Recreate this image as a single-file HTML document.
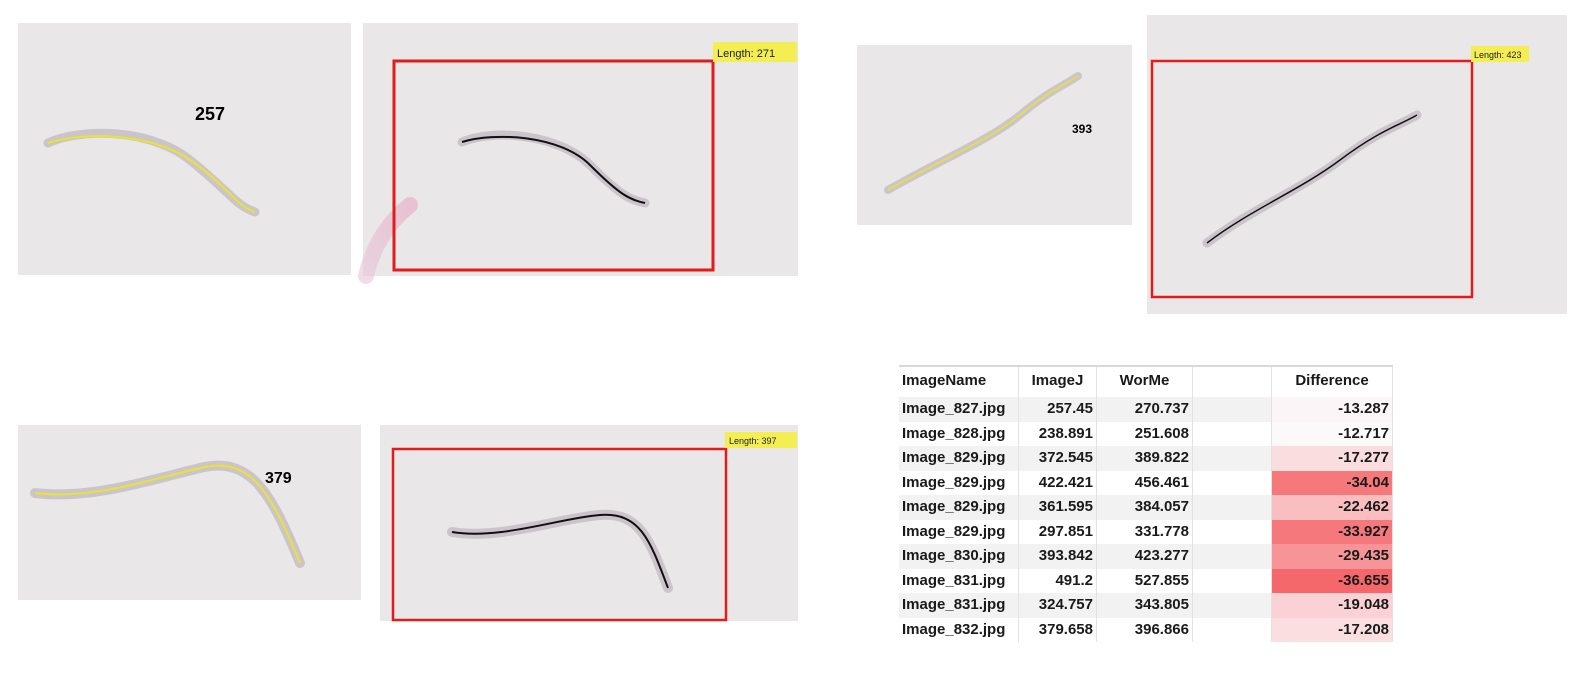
<!DOCTYPE html>
<html><head><meta charset="utf-8"><style>
body{margin:0;width:1589px;height:673px;background:#fff;position:relative;overflow:hidden;font-family:"Liberation Sans",Arial,sans-serif}
svg{position:absolute;left:0;top:0}
#tbl{position:absolute;left:899px;top:365px;}
.cell{position:absolute;box-sizing:border-box;font-size:15px;line-height:24px;color:#1a1a1a;white-space:nowrap;padding:0 3px;font-weight:bold}
</style></head><body>
<svg width="1589" height="673">
<defs>
<linearGradient id="pink" x1="0" y1="1" x2="1" y2="0"><stop offset="0" stop-color="#e8c4d6"/><stop offset="1" stop-color="#e7a9c3"/></linearGradient>
</defs>
<g>
<rect x="18" y="23" width="333" height="252" fill="#e9e7e8"/>
<path d="M48,143 C80,128 150,128 190,160 S235,205 255,212" fill="none" stroke="#b9adb7" stroke-width="9" stroke-linecap="round" opacity="0.6"/>
<path d="M48,143 C80,132 150,132 190,160 S235,205 255,212" fill="none" stroke="#e8e431" stroke-width="2"/>
<text x="195" y="120" font-size="18" font-weight="bold" font-family="Liberation Sans,sans-serif">257</text>
</g>
<g>
<rect x="363" y="23" width="435" height="253" fill="#e9e7e8"/>
<path d="M366,276 C372,250 385,225 410,205" stroke="url(#pink)" stroke-width="16" fill="none" stroke-linecap="round" opacity="0.6"/>
<path d="M462,142 C495,128 560,135 590,165 S630,200 645,203" fill="none" stroke="#b9adb7" stroke-width="9" stroke-linecap="round" opacity="0.6"/>
<path d="M462,142 C495,132 560,135 590,165 S630,200 645,203" fill="none" stroke="#111" stroke-width="2"/>
<rect x="394" y="61" width="319" height="209" fill="none" stroke="#e21b1b" stroke-width="3"/>
<rect x="713" y="42" width="84" height="20" fill="#f3ee54"/>
<text x="717" y="57" font-size="11" fill="#222">Length: 271</text>
</g>
<g>
<rect x="857" y="45" width="275" height="180" fill="#e9e7e8"/>
<path d="M888,190 C940,160 990,140 1020,115 S1065,85 1078,76" fill="none" stroke="#b9adb7" stroke-width="8" stroke-linecap="round" opacity="0.6"/>
<path d="M888,190 C940,160 990,140 1020,115 S1065,85 1078,76" fill="none" stroke="#e8e431" stroke-width="1.5"/>
<text x="1072" y="133" font-size="12" font-weight="bold">393</text>
</g>
<g>
<rect x="1147" y="15" width="420" height="299" fill="#e9e7e8"/>
<path d="M1207,243 C1250,210 1300,190 1340,160 S1400,125 1417,115" fill="none" stroke="#b9adb7" stroke-width="9" stroke-linecap="round" opacity="0.6"/>
<path d="M1207,243 C1250,210 1300,190 1340,160 S1400,125 1417,115" fill="none" stroke="#111" stroke-width="1.5"/>
<rect x="1152" y="61" width="320" height="236" fill="none" stroke="#e21b1b" stroke-width="2.5"/>
<rect x="1471" y="46" width="58" height="16" fill="#f3ee54"/>
<text x="1474" y="58" font-size="9" fill="#222">Length: 423</text>
</g>
<g>
<rect x="18" y="425" width="343" height="175" fill="#e9e7e8"/>
<path d="M35,493 C90,500 150,480 200,468 S270,490 300,563" fill="none" stroke="#b9adb7" stroke-width="10" stroke-linecap="round" opacity="0.6"/>
<path d="M35,493 C90,500 150,480 200,468 S270,490 300,563" fill="none" stroke="#e8e431" stroke-width="2"/>
<text x="265" y="483" font-size="16" font-weight="bold">379</text>
</g>
<g>
<rect x="380" y="425" width="418" height="196" fill="#e9e7e8"/>
<path d="M452,532 C500,540 560,518 600,515 S650,540 668,588" fill="none" stroke="#b9adb7" stroke-width="10" stroke-linecap="round" opacity="0.6"/>
<path d="M452,532 C500,540 560,518 600,515 S650,540 668,588" fill="none" stroke="#111" stroke-width="2"/>
<rect x="393" y="449" width="333" height="171" fill="none" stroke="#e21b1b" stroke-width="2.5"/>
<rect x="725" y="432" width="72" height="16" fill="#f3ee54"/>
<text x="729" y="444" font-size="9" fill="#222">Length: 397</text>
</g>
</svg>
<div id="tbl"></div>
<script>
const names=["Image_827.jpg","Image_828.jpg","Image_829.jpg","Image_829.jpg","Image_829.jpg","Image_829.jpg","Image_830.jpg","Image_831.jpg","Image_831.jpg","Image_832.jpg"];
const imagej=["257.45","238.891","372.545","422.421","361.595","297.851","393.842","491.2","324.757","379.658"];
const worme=["270.737","251.608","389.822","456.461","384.057","331.778","423.277","527.855","343.805","396.866"];
const diffs=["-13.287","-12.717","-17.277","-34.04","-22.462","-33.927","-29.435","-36.655","-19.048","-17.208"];
const t=document.getElementById('tbl');
const cols=[[0,120],[120,78],[198,96],[294,79],[373,121]];
const rowH=24.5, headH=32;
function cell(x,y,w,h,txt,align,bg){
  const d=document.createElement('div');
  
  
  d.className='cell';
  d.style.left=x+'px';d.style.top=y+'px';d.style.width=w+'px';d.style.height=h+'px';
  d.style.lineHeight=h+'px';d.style.textAlign=align;
  if(bg)d.style.background=bg;
  d.style.borderRight='1px solid #e2e2e2';
  d.textContent=txt;t.appendChild(d);
}
const headers=["ImageName","ImageJ","WorMe","","Difference"];
headers.forEach((h,i)=>cell(cols[i][0],0,cols[i][1],headH,h,i==0?'left':'center','#fff'));
const hb=document.createElement('div');


hb.style.cssText='position:absolute;left:0;top:0;width:494px;height:2px;background:#d8d8d8';t.appendChild(hb);
function diffColor(v){
  const a=Math.max(0,Math.min(1,(Math.abs(v)-12.5)/(36.7-12.5)));
  const r=Math.round(252-(252-244)*a),g=Math.round(250-(250-104)*a),b=Math.round(252-(252-107)*a);
  return `rgb(${r},${g},${b})`;
}
for(let i=0;i<names.length;i++){
  const y=headH+i*rowH;
  const bg=i%2==0?'#f2f2f2':'#fff';
  cell(cols[0][0],y,cols[0][1],rowH,names[i],'left',bg);
  cell(cols[1][0],y,cols[1][1],rowH,imagej[i],'right',bg);
  cell(cols[2][0],y,cols[2][1],rowH,worme[i],'right',bg);
  cell(cols[3][0],y,cols[3][1],rowH,'','left',bg);
  cell(cols[4][0],y,cols[4][1],rowH,diffs[i],'right',diffColor(parseFloat(diffs[i])));
}
</script>
</body></html>
